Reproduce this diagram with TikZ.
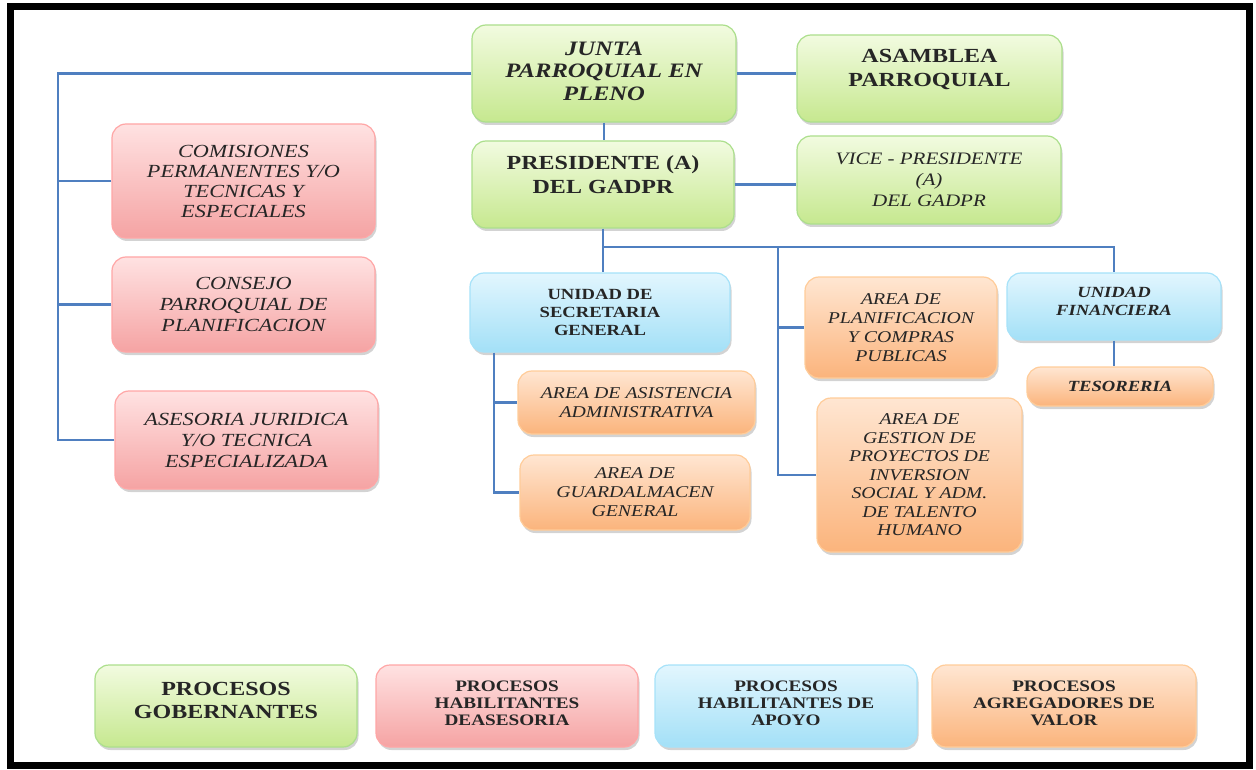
\documentclass[tikz,border=0pt]{standalone}
\usepackage{fontspec}
\setmainfont{Liberation Serif}[FakeStretch=1.2]
\usetikzlibrary{shadows}

\tikzset{
  box/.style={rounded corners=14pt, draw, line width=1.2pt, align=center,
    text=black!85, drop shadow={opacity=0.35, shadow xshift=1.5pt, shadow yshift=-3pt}},
  govbox/.style={box, draw=green!45!olive!45, top color=govtop, bottom color=govbot},
  advbox/.style={box, draw=red!35, top color=advtop, bottom color=advbot},
  supbox/.style={box, draw=cyan!35, top color=suptop, bottom color=supbot},
  valbox/.style={box, draw=orange!40, top color=valtop, bottom color=valbot},
  link/.style={draw=linkblue, line width=2.2pt},
}
\definecolor{govtop}{HTML}{F2FBE0}
\definecolor{govbot}{HTML}{C6E88F}
\definecolor{advtop}{HTML}{FFE2E2}
\definecolor{advbot}{HTML}{F5A3A3}
\definecolor{suptop}{HTML}{E2F6FE}
\definecolor{supbot}{HTML}{A3E0F7}
\definecolor{valtop}{HTML}{FFE6D2}
\definecolor{valbot}{HTML}{FBB47C}
\definecolor{linkblue}{HTML}{4F7FC0}

\begin{document}
\begin{tikzpicture}[x=1pt, y=-1pt]
  \useasboundingbox (0,0) rectangle (1256,770);
  % frame
  \draw[line width=7pt] (10.5,6.5) rectangle (1249,765);

  % gobierno
  \node[govbox, minimum width=264, minimum height=97, text depth=5pt,
    font=\fontsize{20.5}{22.5}\selectfont\bfseries\itshape] (junta) at (604,73.5)
    {JUNTA\\PARROQUIAL EN\\PLENO};
  \node[govbox, minimum width=265, minimum height=87, text depth=22pt,
    font=\fontsize{20}{24}\selectfont\bfseries] (asamblea) at (929.5,78.5)
    {ASAMBLEA\\PARROQUIAL};
  \node[govbox, minimum width=262, minimum height=87, text depth=20pt,
    font=\fontsize{20}{24}\selectfont\bfseries] (pres) at (603,184.5)
    {PRESIDENTE (A)\\DEL GADPR};
  \node[govbox, minimum width=264, minimum height=88,
    font=\fontsize{17.5}{21}\selectfont\itshape] (vice) at (929,180)
    {VICE - PRESIDENTE\\(A)\\DEL GADPR};

  % asesoria
  \node[advbox, minimum width=263, minimum height=114,
    font=\fontsize{18.5}{20}\selectfont\itshape] (comis) at (243.5,181)
    {COMISIONES\\PERMANENTES Y/O\\TECNICAS Y\\ESPECIALES};
  \node[advbox, minimum width=263, minimum height=95,
    font=\fontsize{18.5}{21}\selectfont\itshape] (consejo) at (243.5,304.5)
    {CONSEJO\\PARROQUIAL DE\\PLANIFICACION};
  \node[advbox, minimum width=263, minimum height=98,
    font=\fontsize{18.5}{21}\selectfont\itshape] (asesoria) at (246.5,440)
    {ASESORIA JURIDICA\\Y/O TECNICA\\ESPECIALIZADA};

  % apoyo
  \node[supbox, minimum width=260, minimum height=79,
    font=\fontsize{15.5}{18}\selectfont\bfseries] (secret) at (600,312.5)
    {UNIDAD DE\\SECRETARIA\\GENERAL};
  \node[supbox, minimum width=214, minimum height=67, text depth=10pt,
    font=\fontsize{15.5}{18.5}\selectfont\bfseries\itshape] (finan) at (1114,306.5)
    {UNIDAD\\FINANCIERA};

  % agregadores de valor
  \node[valbox, minimum width=237, minimum height=63,
    font=\fontsize{16.5}{19}\selectfont\itshape] (asist) at (636.5,402.5)
    {AREA DE ASISTENCIA\\ADMINISTRATIVA};
  \node[valbox, minimum width=230, minimum height=75,
    font=\fontsize{16.5}{19}\selectfont\itshape] (guard) at (635,492.5)
    {AREA DE\\GUARDALMACEN\\GENERAL};
  \node[valbox, minimum width=192, minimum height=101,
    font=\fontsize{16.5}{19}\selectfont\itshape] (planif) at (901,327.5)
    {AREA DE\\PLANIFICACION\\Y COMPRAS\\PUBLICAS};
  \node[valbox, minimum width=205, minimum height=154,
    font=\fontsize{16.5}{18.5}\selectfont\itshape] (gestion) at (919.5,475)
    {AREA DE\\GESTION DE\\PROYECTOS DE\\INVERSION\\SOCIAL Y ADM.\\DE TALENTO\\HUMANO};
  \node[valbox, minimum width=186, minimum height=39,
    font=\fontsize{15.5}{18}\selectfont\bfseries\itshape] (tesor) at (1120,386.5)
    {TESORERIA};

  % leyenda
  \node[govbox, minimum width=262, minimum height=82, text depth=11pt,
    font=\fontsize{20}{23}\selectfont\bfseries] (leggov) at (226,706)
    {PROCESOS\\GOBERNANTES};
  \node[advbox, minimum width=262, minimum height=82, text depth=6pt,
    font=\fontsize{16}{17}\selectfont\bfseries] (legadv) at (507,706)
    {PROCESOS\\HABILITANTES\\DEASESORIA};
  \node[supbox, minimum width=262, minimum height=82, text depth=6pt,
    font=\fontsize{16}{17}\selectfont\bfseries] (legsup) at (786,706)
    {PROCESOS\\HABILITANTES DE\\APOYO};
  \node[valbox, minimum width=264, minimum height=82, text depth=6pt,
    font=\fontsize{16}{17}\selectfont\bfseries] (legval) at (1064,706)
    {PROCESOS\\AGREGADORES DE\\VALOR};

  % conectores
  \coordinate (leftbus) at (58,441);
  \coordinate (midbus) at (778,247);
  \coordinate (secbus) at (494,441);
  \draw[link] (junta.west) -| (leftbus);
  \draw[link] (comis.west) -- (comis.west -| leftbus);
  \draw[link] (consejo.west) -- (consejo.west -| leftbus);
  \draw[link] (asesoria.west) -- (asesoria.west -| leftbus);
  \draw[link] (junta.east) -- (junta.east -| asamblea.west);
  \draw[link] (junta.south) -- (junta.south |- pres.north);
  \draw[link] (pres.east) -- (pres.east -| vice.west);
  \draw[link] (pres.south) -- (pres.south |- secret.north);
  \draw[link] (pres.south |- midbus) -| (finan.north);
  \draw[link] (midbus) |- (gestion.west);
  \draw[link] (midbus |- planif.west) -- (planif.west);
  \draw[link] (secret.south -| secbus) |- (guard.west);
  \draw[link] (secbus |- asist.west) -- (asist.west);
  \draw[link] (finan.south) -- (finan.south |- tesor.north);
\end{tikzpicture}
\end{document}
